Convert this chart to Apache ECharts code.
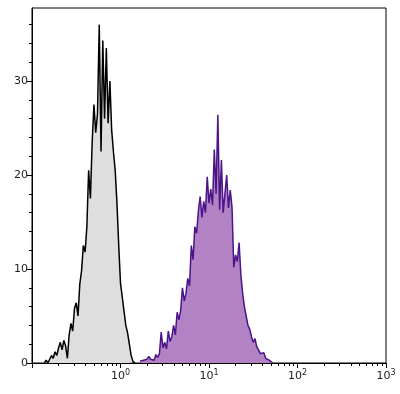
<!DOCTYPE html>
<html>
<head>
<meta charset="utf-8">
<script src="https://cdn.jsdelivr.net/npm/echarts@6/dist/echarts.min.js"></script>
<style>html,body{margin:0;padding:0;background:#fff}#c{width:400px;height:394px}</style>
</head>
<body>
<div id="c"></div>
<script>
// Histogram channels (x in log10 units of fluorescence)
var binStep = 0.02;
var grayStartLog = -0.86;
var grayCounts = [0,0.3,0,0.4,0.8,0.5,1.2,0.8,1.6,2.2,1.4,2.4,1.8,0.5,3.0,4.2,3.4,5.8,6.4,5.0,8.4,9.8,12.5,11.8,14.5,20.5,17.5,23.5,27.5,24.5,26.5,36.0,22.5,34.3,26,33.5,25.5,30.0,24.8,22.5,20.5,17,12.5,8.5,7.0,5.5,4.0,3.2,2.0,0.8,0.2,0];
var purpleStartLog = 0.22;
var purpleCounts = [0.2,0,0.3,0.1,0.4,0.7,0.4,0.6,0.3,0.9,0.6,1.0,3.3,1.6,2.2,1.5,3.4,2.3,2.8,4.0,3.0,5.4,4.6,5.6,8.0,6.6,7.4,9.0,8.2,12.5,11.0,14.5,13.8,16.2,17.7,15.5,17.2,16.0,19.8,17.0,18.5,16.8,22.7,18.0,26.4,16.3,21.6,16.0,18.0,20.0,16.5,18.4,16.6,10.2,11.5,10.8,12.8,9.4,7.4,6.0,5.0,4.0,3.6,2.8,2.2,2.6,1.7,1.4,1.0,0.8,1.1,0.5,0.6,0.3,0.4,0];
var xMajorTicks = [-1,0,1,2,3];
var xTickLabels = {'0':'0','1':'1','2':'2','3':'3'};
var yMajorTicks = [0,10,20,30];
var yMinorTicks = [2,4,6,8,12,14,16,18,22,24,26,28,32,34,36];
var xMinorTicks = [];
for (var d = -1; d < 3; d++) { for (var m = 2; m <= 9; m++) { xMinorTicks.push(d + Math.log10(m)); } }

function toSeries(start, counts) {
  return counts.map(function (c, i) { return [start + i * binStep, c]; });
}

var chart = echarts.init(document.getElementById('c'));
var font = 'DejaVu Sans';
chart.setOption({
  animation: false,
  grid: { left: 32, right: 14, top: 8, bottom: 31, show: true, borderColor: '#000', borderWidth: 1, backgroundColor: 'transparent' },
  xAxis: [{
    type: 'value', min: -1, max: 3, interval: 1,
    axisLine: { show: true, onZero: false, lineStyle: { color: '#000', width: 1 } },
    axisTick: { show: true, length: 5, customValues: xMajorTicks, lineStyle: { color: '#000' } },
    splitLine: { show: false },
    axisLabel: {
      margin: 6, customValues: [0,1,2,3],
      formatter: function (v) { var k = String(Math.round(v)); return xTickLabels[k] ? '{b|10}{s|' + xTickLabels[k] + '}' : ''; },
      rich: {
        b: { fontSize: 11, fontFamily: font, color: '#222' },
        s: { fontSize: 8, fontFamily: font, color: '#222', padding: [0, 0, 6, 0] }
      }
    }
  }, {
    type: 'value', min: -1, max: 3, position: 'bottom',
    axisLine: { show: false, onZero: false },
    axisTick: { show: true, length: 3, customValues: xMinorTicks, lineStyle: { color: '#000' } },
    axisLabel: { show: false }, splitLine: { show: false }
  }],
  yAxis: [{
    type: 'value', min: 0, max: 37.77, interval: 10,
    axisLine: { show: true, onZero: false, lineStyle: { color: '#000', width: 1 } },
    axisTick: { show: true, length: 5, customValues: yMajorTicks, lineStyle: { color: '#000' } },
    splitLine: { show: false },
    axisLabel: { margin: 4, customValues: yMajorTicks, fontSize: 11, fontFamily: font, color: '#222' }
  }, {
    type: 'value', min: 0, max: 37.77, position: 'left',
    axisLine: { show: false, onZero: false },
    axisTick: { show: true, length: 3, customValues: yMinorTicks, lineStyle: { color: '#000' } },
    axisLabel: { show: false }, splitLine: { show: false }
  }],
  series: [{
    type: 'line', xAxisIndex: 0, yAxisIndex: 0, data: toSeries(grayStartLog, grayCounts),
    symbol: 'none', lineStyle: { color: '#000', width: 1.5 }, areaStyle: { color: '#dedede', opacity: 1 }
  }, {
    type: 'line', xAxisIndex: 0, yAxisIndex: 0, data: toSeries(purpleStartLog, purpleCounts),
    symbol: 'none', lineStyle: { color: '#4b1489', width: 1.5 }, areaStyle: { color: '#b283c4', opacity: 1 }
  }]
});
</script>
</body>
</html>
